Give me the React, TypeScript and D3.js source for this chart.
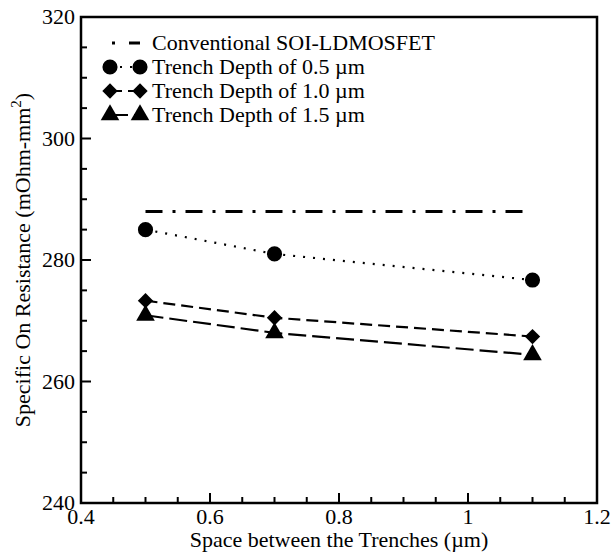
import React, { useEffect, useRef } from 'react';
import * as d3 from 'd3';

const spacing = [0.5, 0.7, 1.1];
const conventional = [288, 288, 288];
const depth05 = [285.0, 281.0, 276.7];
const depth10 = [273.3, 270.5, 267.4];
const depth15 = [270.9, 268.0, 264.4];

const xTicks = [0.4, 0.6, 0.8, 1, 1.2];
const yTicks = [240, 260, 280, 300, 320];

const seriesLabels = [
  'Conventional SOI-LDMOSFET',
  'Trench Depth of 0.5 \u00b5m',
  'Trench Depth of 1.0 \u00b5m',
  'Trench Depth of 1.5 \u00b5m',
];

const App = () => {
  const svgRef = useRef<SVGSVGElement>(null);

  useEffect(() => {
    const svg = d3.select(svgRef.current);
    svg.selectAll('*').remove();

    const font = '"Liberation Serif", "Times New Roman", serif';
    const margin = { top: 17, right: 14, bottom: 49, left: 81 };
    const W = 611, H = 552;

    const x = d3.scaleLinear().domain([0.4, 1.2]).range([margin.left, W - margin.right]);
    const y = d3.scaleLinear().domain([240, 320]).range([H - margin.bottom, margin.top]);

    const series = [
      { values: conventional, dash: '17,10,3,10', width: 3, marker: null },
      { values: depth05, dash: '2,8', width: 2.2, marker: d3.symbolCircle },
      { values: depth10, dash: '12,6', width: 2.2, marker: d3.symbolDiamond2 },
      { values: depth15, dash: '18,6', width: 2.2, marker: d3.symbolTriangle },
    ];
    const markerSize = [0, 180, 150, 150];

    // ticks (inside, left and bottom only)
    const minorX = d3.range(0.4, 1.2001, 0.05);
    const minorY = d3.range(240, 320.001, 5);
    const g = svg.append('g');
    g.selectAll('.mx').data(minorX).enter().append('line')
      .attr('x1', d => x(d)).attr('x2', d => x(d))
      .attr('y1', y(240)).attr('y2', d => y(240) - (xTicks.some(t => Math.abs(t - d) < 1e-6) ? 10 : 6))
      .attr('stroke', '#000').attr('stroke-width', 2);
    g.selectAll('.my').data(minorY).enter().append('line')
      .attr('y1', d => y(d)).attr('y2', d => y(d))
      .attr('x1', x(0.4)).attr('x2', d => x(0.4) + (Math.round(d) % 20 === 0 ? 10 : 6))
      .attr('stroke', '#000').attr('stroke-width', 2);

    g.selectAll('.xl').data(xTicks).enter().append('text')
      .attr('x', d => x(d)).attr('y', y(240) + 21)
      .attr('text-anchor', 'middle')
      .attr('font-family', font).attr('font-size', 22)
      .text(d => String(d));
    g.selectAll('.yl').data(yTicks).enter().append('text')
      .attr('x', x(0.4) - 6).attr('y', d => y(d) + 7)
      .attr('text-anchor', 'end')
      .attr('font-family', font).attr('font-size', 22)
      .text(d => String(d));

    // frame
    svg.append('rect')
      .attr('x', x(0.4)).attr('y', y(320))
      .attr('width', x(1.2) - x(0.4)).attr('height', y(240) - y(320))
      .attr('fill', 'none').attr('stroke', '#000').attr('stroke-width', 2.5);

    // lines and markers
    const line = d3.line<number>().x((_, i) => x(spacing[i])).y(d => y(d));
    series.forEach((s, si) => {
      svg.append('path')
        .attr('d', line(s.values))
        .attr('fill', 'none').attr('stroke', '#000')
        .attr('stroke-width', s.width).attr('stroke-dasharray', s.dash);
      if (s.marker) {
        svg.selectAll(`.m${si}`).data(s.values).enter().append('path')
          .attr('d', d3.symbol(s.marker, markerSize[si])())
          .attr('transform', (d, i) => `translate(${x(spacing[i])},${y(d)})`)
          .attr('fill', '#000');
      }
    });

    // legend
    const lx1 = 110, lx2 = 140, ly0 = 43, lstep = 24;
    series.forEach((s, si) => {
      const ly = ly0 + si * lstep;
      svg.append('line')
        .attr('x1', si === 0 ? 108 : lx1).attr('x2', lx2)
        .attr('y1', ly).attr('y2', ly)
        .attr('stroke', '#000').attr('stroke-width', s.width)
        .attr('stroke-dasharray', si === 0 ? '0,4,3,14,13,100' : s.dash);
      if (s.marker) {
        [lx1, lx2].forEach(mx => {
          svg.append('path')
            .attr('d', d3.symbol(s.marker!, markerSize[si])())
            .attr('transform', `translate(${mx},${ly})`)
            .attr('fill', '#000');
        });
      }
      svg.append('text')
        .attr('x', 152).attr('y', ly + 7)
        .attr('font-family', font).attr('font-size', 22)
        .text(seriesLabels[si]);
    });

    // axis titles
    svg.append('text')
      .attr('x', (x(0.4) + x(1.2)) / 2).attr('y', 547)
      .attr('text-anchor', 'middle')
      .attr('font-family', font).attr('font-size', 22)
      .text('Space between the Trenches (\u00b5m)');

    const yt = svg.append('text')
      .attr('transform', `translate(30,${(y(240) + y(320)) / 2}) rotate(-90)`)
      .attr('text-anchor', 'middle')
      .attr('font-family', font).attr('font-size', 22);
    yt.append('tspan').text('Specific On Resistance (mOhm-mm');
    yt.append('tspan').attr('font-size', 15).attr('dy', -9).text('2');
    yt.append('tspan').attr('dy', 9).text(')');
  }, []);

  return (
    <div style={{ position: 'absolute', left: 0, top: 0 }}>
      <svg ref={svgRef} width={611} height={552} style={{ display: 'block', background: '#fff' }} />
    </div>
  );
};

export default App;
